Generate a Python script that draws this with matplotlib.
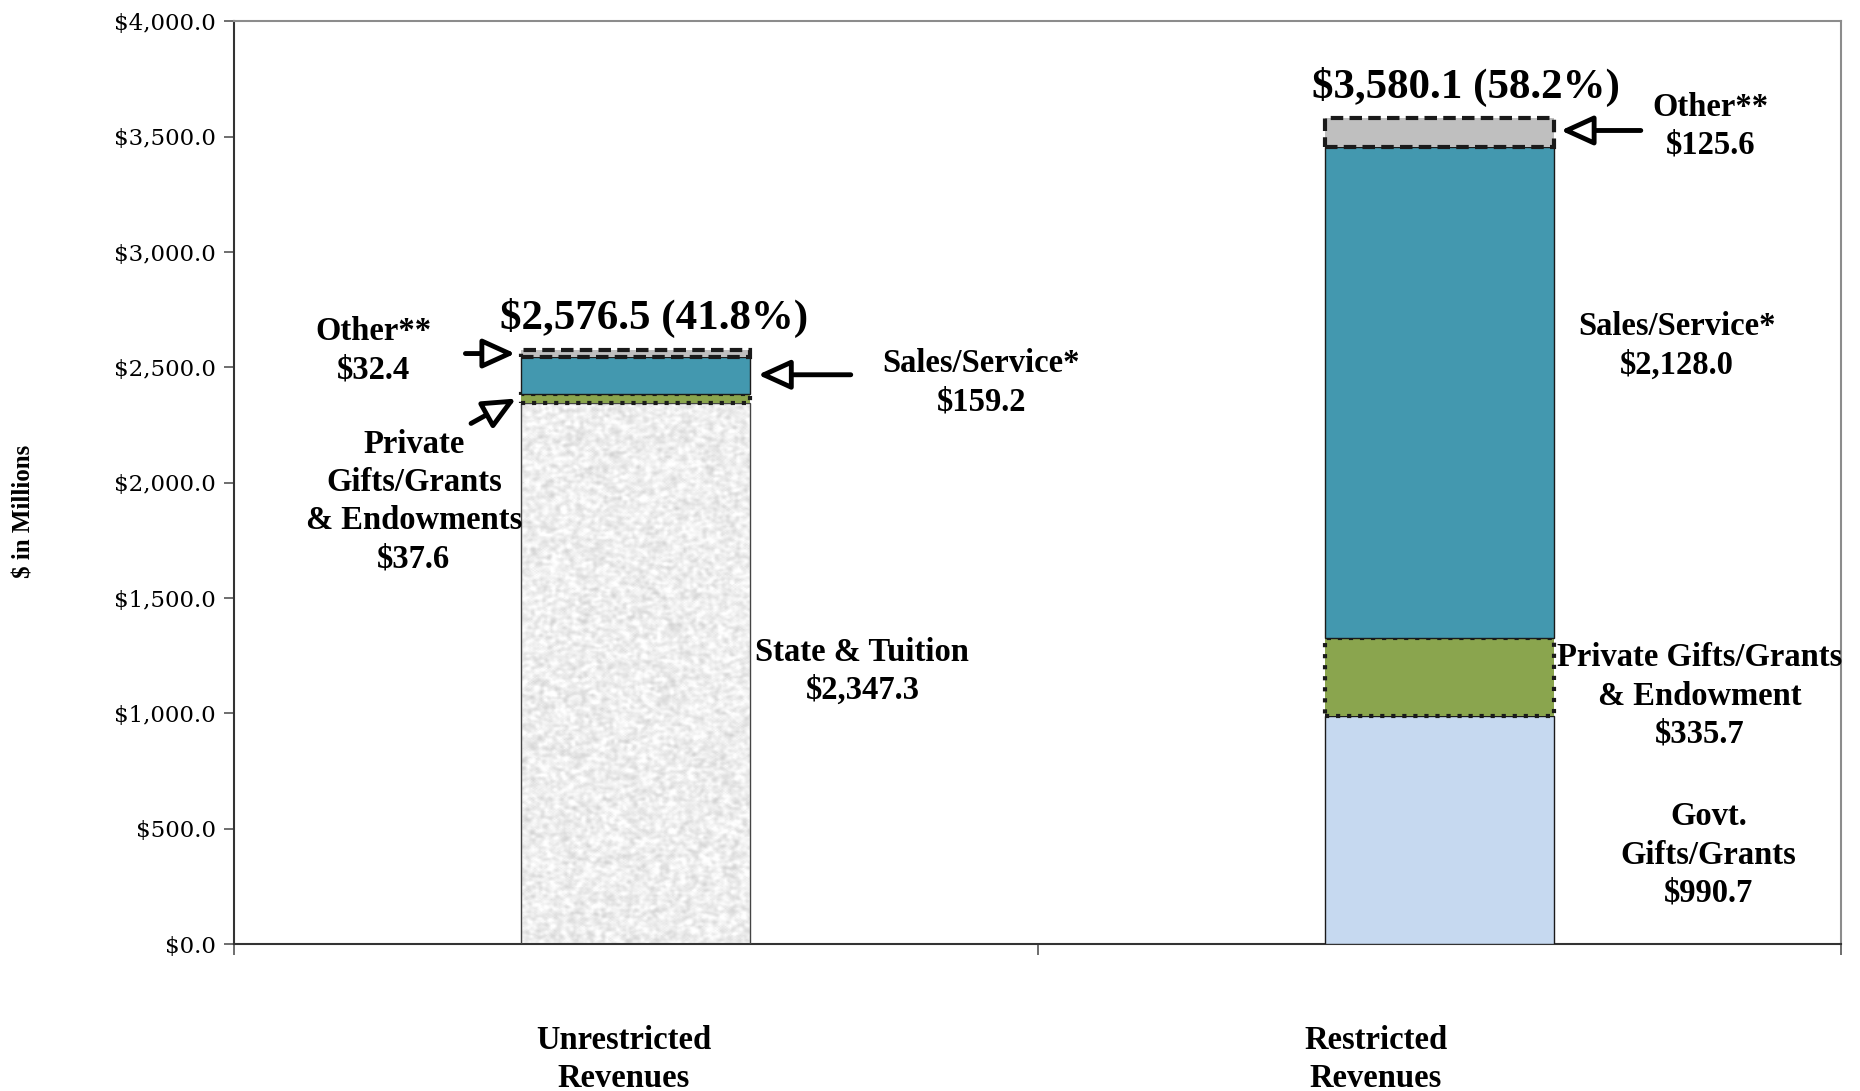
import numpy as np
import matplotlib.pyplot as plt
from matplotlib.patches import Rectangle
from matplotlib.ticker import FuncFormatter
import matplotlib.transforms as mtransforms

# revenue components, $ millions
groups = ["Unrestricted\nRevenues", "Restricted\nRevenues"]
unrestricted = [2347.3, 37.6, 159.2, 32.4]   # state & tuition, private, sales, other
restricted = [990.7, 335.7, 2128.0, 125.6]   # govt, private, sales, other
totals = [2576.5, 3580.1]
shares = [41.8, 58.2]
yticks = [0, 500, 1000, 1500, 2000, 2500, 3000, 3500, 4000]

TEAL = "#4398AF"
GREEN = "#8AA54E"
GRAY = "#BFBFBF"
LBLUE = "#C6D9F0"

serif = "Liberation Serif"
bold = dict(family=serif, weight="bold", fontsize=23.5, ha="center", va="center",
            linespacing=1.3)

fig = plt.figure(figsize=(18.6, 10.91), dpi=100)
ax = fig.add_axes([0.1258, 0.1347, 0.8641, 0.8457])

x = np.array([0, 1])
w = 0.285

# stacked segments with their border styles
styles = [
    # (values per bar, colours per bar, linestyle, linewidth)
    ([unrestricted[0], restricted[0]], ["none", LBLUE], "-", 1.0),
    ([unrestricted[1], restricted[1]], [GREEN, GREEN], ":", 3.0),
    ([unrestricted[2], restricted[2]], [TEAL, TEAL], "-", 1.0),
    ([unrestricted[3], restricted[3]], [GRAY, GRAY], (0, (3, 1.5)), 3.0),
]
bottom = np.zeros(2)
seg_rects = []
for vals, cols, ls, lw in styles:
    bars = ax.bar(x, vals, w, bottom=bottom, color=cols, edgecolor="#1a1a1a",
                  linewidth=lw, linestyle=ls, zorder=3)
    seg_rects.append(bars)
    bottom += np.array(vals)

# granite-like fill for the state & tuition block
rng = np.random.default_rng(7)
noise = rng.random((420, 140))
for _ in range(2):
    noise = (noise + np.roll(noise, 1, 0) + np.roll(noise, -1, 0)
             + np.roll(noise, 1, 1) + np.roll(noise, -1, 1)) / 5
noise = (noise - noise.mean()) / noise.std()
tex = np.clip(0.935 + 0.035 * noise, 0.78, 1.0)
clip = Rectangle((x[0] - w / 2, 0), w, unrestricted[0], transform=ax.transData)
im = ax.imshow(tex, cmap="gray", vmin=0, vmax=1, aspect="auto",
               extent=(x[0] - w / 2, x[0] + w / 2, 0, unrestricted[0]),
               interpolation="bilinear", zorder=2)
im.set_clip_path(clip)
seg_rects[0][0].set_facecolor("none")
seg_rects[0][0].set_edgecolor("#444444")

ax.set_xlim(-0.5, 1.5)
ax.set_ylim(0, 4000)

# axes frame
for s in ["left", "bottom"]:
    ax.spines[s].set_color("#333333")
    ax.spines[s].set_linewidth(1.5)
for s in ["top", "right"]:
    ax.spines[s].set_color("#8c8c8c")
    ax.spines[s].set_linewidth(1.5)

ax.set_yticks(yticks)
ax.yaxis.set_major_formatter(FuncFormatter(lambda v, p: f"${v:,.1f}"))
ax.tick_params(axis="y", length=7, width=1.2, color="#555555", pad=6)
for lab in ax.get_yticklabels():
    lab.set_family("DejaVu Serif")
    lab.set_fontsize(16.5)
ax.set_xticks([-0.5, 0.5, 1.5])
ax.set_xticklabels([])
ax.tick_params(axis="x", length=8, width=1.2, color="#555555")

# category labels under the axis
tr = mtransforms.blended_transform_factory(ax.transData, ax.transAxes)
for gx, g in zip([-0.015, 0.921], groups):
    ax.text(gx, -0.125, g, transform=tr, **bold)

fig.text(0.013, 0.531, "$ in Millions", rotation=90, family=serif,
         weight="bold", fontsize=18, ha="center", va="center")

# totals
for i, (t, s) in enumerate(zip(totals, shares)):
    ax.text([0.0225, 1.0336][i], [2714, 3717][i], f"${t:,.1f} ({s:.1f}%)",
            family=serif, weight="bold", fontsize=31, ha="center", va="center")

# segment labels
ax.text(-0.327, 2573, f"Other**\n${unrestricted[3]:,.1f}", **bold)
ax.text(-0.276, 1918, f"Private\nGifts/Grants\n& Endowments\n${unrestricted[1]:,.1f}", **bold)
ax.text(0.43, 2432, f"Sales/Service*\n${unrestricted[2]:,.1f}", **bold)
ax.text(0.282, 1183, f"State & Tuition\n${unrestricted[0]:,.1f}", **bold)

ax.text(1.3376, 3545, f"Other**\n${restricted[3]:,.1f}", **bold)
ax.text(1.296, 2594, f"Sales/Service*\n${restricted[2]:,.1f}", **bold)
ax.text(1.324, 1075, f"Private Gifts/Grants\n& Endowment\n${restricted[1]:,.1f}", **bold)
ax.text(1.3347, 386, f"Govt.\nGifts/Grants\n${restricted[0]:,.1f}", **bold)

# pointer arrows with open heads
arrow = dict(arrowstyle="-|>,head_length=1.1,head_width=0.5", lw=3.5,
             fc="white", ec="black", shrinkA=0, shrinkB=0, mutation_scale=18)
ax.annotate("", xy=(-0.150, 2560), xytext=(-0.212, 2560), arrowprops=arrow, zorder=4)
ax.annotate("", xy=(-0.149, 2365), xytext=(-0.205, 2257), arrowprops=arrow, zorder=4)
ax.annotate("", xy=(0.152, 2468), xytext=(0.2675, 2468), arrowprops=arrow, zorder=4)
ax.annotate("", xy=(1.151, 3527), xytext=(1.2506, 3527), arrowprops=arrow, zorder=4)

fig.savefig("out.png", dpi=100)
